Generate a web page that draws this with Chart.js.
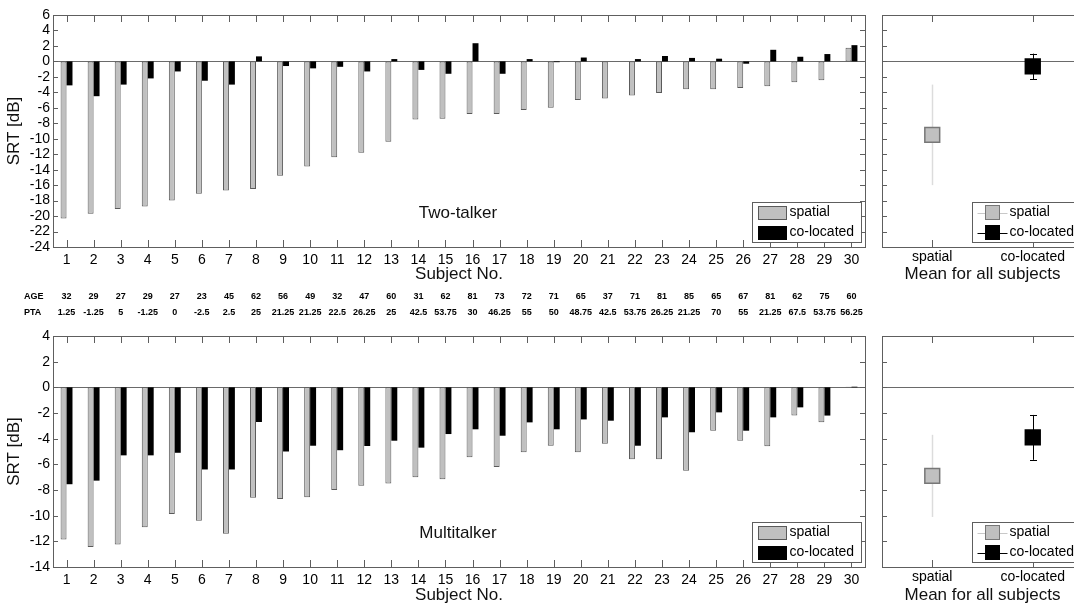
<!DOCTYPE html>
<html>
<head>
<meta charset="utf-8">
<script src="https://cdn.jsdelivr.net/npm/chart.js@4.4.1/dist/chart.umd.min.js"></script>
<style>
    html, body { margin: 0; padding: 0; background: #fff; overflow: hidden; width: 1074px; height: 606px; }
    canvas { position: absolute; }
</style>
</head>
<body>
<canvas id="twoBars" width="880" height="320" style="left:0;top:0"></canvas>
<canvas id="twoMean" width="230" height="285" style="left:870px;top:0"></canvas>
<canvas id="multiBars" width="880" height="286" style="left:0;top:320px"></canvas>
<canvas id="multiMean" width="230" height="286" style="left:870px;top:320px"></canvas>
<script>
const subjects = Array.from({ length: 30 }, (_, i) => String(i + 1));

const twoSpatial = [-20.3, -19.7, -19.1, -18.75, -18.0, -17.1, -16.7, -16.5, -14.8, -13.6,
    -12.4, -11.8, -10.4, -7.5, -7.4, -6.8, -6.8, -6.3, -6.0, -5.0,
    -4.8, -4.4, -4.1, -3.6, -3.6, -3.45, -3.2, -2.7, -2.45, 1.75];
const twoColocated = [-3.1, -4.5, -3.0, -2.2, -1.3, -2.5, -3.0, 0.65, -0.6, -0.9,
    -0.7, -1.3, 0.3, -1.1, -1.6, 2.35, -1.6, 0.3, -0.1, 0.5,
    0, 0.3, 0.7, 0.45, 0.35, -0.3, 1.5, 0.6, 0.95, 2.1];

const multiSpatial = [-11.85, -12.45, -12.25, -10.9, -9.87, -10.4, -11.4, -8.6, -8.7, -8.57,
    -8.0, -7.66, -7.5, -7.0, -7.17, -5.45, -6.2, -5.06, -4.55, -5.06,
    -4.4, -5.6, -5.6, -6.5, -3.38, -4.16, -4.6, -2.2, -2.73, 0.05];
const multiColocated = [-7.55, -7.27, -5.3, -5.3, -5.1, -6.4, -6.4, -2.7, -5.0, -4.55,
    -4.9, -4.57, -4.16, -4.7, -3.64, -3.27, -3.77, -2.73, -3.27, -2.5,
    -2.6, -4.55, -2.34, -3.5, -1.95, -3.38, -2.34, -1.56, -2.2, 0.05];

const ages = [32, 29, 27, 29, 27, 23, 45, 62, 56, 49, 32, 47, 60, 31, 62,
    81, 73, 72, 71, 65, 37, 71, 81, 85, 65, 67, 81, 62, 75, 60];
const pta = ['1.25', '-1.25', '5', '-1.25', '0', '-2.5', '2.5', '25', '21.25', '21.25',
    '22.5', '26.25', '25', '42.5', '53.75', '30', '46.25', '55', '50', '48.75',
    '42.5', '53.75', '26.25', '21.25', '70', '55', '21.25', '67.5', '53.75', '56.25'];

const conditions = ['spatial', 'co-located'];
const twoMean = [-9.5, -0.65];
const twoSD = [6.5, 1.65];
const multiMean = [-6.9, -3.9];
const multiSD = [3.2, 1.75];

Chart.defaults.font.family = '"Liberation Sans", Arial, sans-serif';
Chart.defaults.color = '#000';

const GRAY = '#c0c0c0';
const GRAY_EDGE = '#5a5a5a';
const FRAME = '#5e5e5e';

// frame, inward ticks, zero line, legend and panel text
const framePlugin = {
    id: 'frame',
    beforeDatasetsDraw(chart, args, o) {
        const { ctx, chartArea: a, scales: { x, y } } = chart;
        const y0 = Math.round(y.getPixelForValue(0)) + 0.5;
        ctx.save();
        ctx.strokeStyle = '#6a6a6a';
        ctx.lineWidth = 1;
        ctx.beginPath();
        ctx.moveTo(a.left, y0);
        ctx.lineTo(a.right, y0);
        ctx.stroke();

        // error bars of the mean panels
        if (o.means) {
            o.means.forEach((m, k) => {
                const px = Math.round(x.getPixelForValue(k)) + 0.5;
                const top = y.getPixelForValue(m + o.sds[k]);
                const bot = y.getPixelForValue(m - o.sds[k]);
                ctx.strokeStyle = k === 0 ? '#dcdcdc' : '#000';
                ctx.lineWidth = k === 0 ? 1.5 : 1;
                ctx.beginPath();
                ctx.moveTo(px, top);
                ctx.lineTo(px, bot);
                if (k === 1) {
                    ctx.moveTo(px - 3.5, Math.round(top) + 0.5);
                    ctx.lineTo(px + 3.5, Math.round(top) + 0.5);
                    ctx.moveTo(px - 3.5, Math.round(bot) + 0.5);
                    ctx.lineTo(px + 3.5, Math.round(bot) + 0.5);
                }
                ctx.stroke();
            });
        }
        ctx.restore();
    },
    afterDraw(chart, args, o) {
        const { ctx, chartArea: a, scales: { x, y } } = chart;
        ctx.save();
        ctx.strokeStyle = FRAME;
        ctx.lineWidth = 1;
        ctx.beginPath();
        x.ticks.forEach((t, i) => {
            const px = Math.round(x.getPixelForTick(i)) + 0.5;
            ctx.moveTo(px, a.bottom);
            ctx.lineTo(px, a.bottom - 7);
            ctx.moveTo(px, a.top);
            ctx.lineTo(px, a.top + 7);
        });
        y.ticks.forEach((t, i) => {
            const py = Math.round(y.getPixelForTick(i)) + 0.5;
            ctx.moveTo(a.left, py);
            ctx.lineTo(a.left + 5, py);
            ctx.moveTo(a.right, py);
            ctx.lineTo(a.right - 5, py);
        });
        ctx.stroke();
        ctx.strokeRect(Math.round(a.left) + 0.5, Math.round(a.top) + 0.5,
            Math.round(a.width), Math.round(a.height));

        // legend box
        const lg = o.legend;
        const bx = Math.round(lg.right ? a.right - 4 - lg.width : a.left + lg.left) + 0.5;
        const by = Math.round(a.bottom - 5 - 40) + 0.5;
        ctx.fillStyle = '#fff';
        ctx.fillRect(bx, by, lg.width, 40);
        ctx.strokeStyle = FRAME;
        ctx.strokeRect(bx, by, lg.width, 40);
        ctx.font = '14px "Liberation Sans", Arial, sans-serif';
        ctx.textBaseline = 'middle';
        ctx.textAlign = 'left';
        conditions.forEach((name, k) => {
            const ry = by + 10 + k * 20;
            if (lg.markers) {
                ctx.strokeStyle = k === 0 ? '#c8c8c8' : '#000';
                ctx.beginPath();
                ctx.moveTo(bx + 5, Math.round(ry) + 0.5);
                ctx.lineTo(bx + 35, Math.round(ry) + 0.5);
                ctx.stroke();
                ctx.fillStyle = k === 0 ? GRAY : '#000';
                ctx.fillRect(bx + 13, ry - 7, 14, 14);
                ctx.strokeStyle = k === 0 ? '#777' : '#000';
                ctx.strokeRect(bx + 13, ry - 7, 14, 14);
                ctx.fillStyle = '#000';
                ctx.fillText(name, bx + 37, ry);
            } else {
                ctx.fillStyle = k === 0 ? GRAY : '#000';
                ctx.fillRect(bx + 6, ry - 6, 28, 13);
                ctx.strokeStyle = k === 0 ? GRAY_EDGE : '#000';
                ctx.strokeRect(bx + 6, ry - 6, 28, 13);
                ctx.fillStyle = '#000';
                ctx.fillText(name, bx + 37, ry);
            }
        });

        if (o.label) {
            ctx.font = '17px "Liberation Sans", Arial, sans-serif';
            ctx.textAlign = 'center';
            ctx.fillStyle = '#111';
            ctx.fillText(o.label, 458, 213);
        }

        // AGE / PTA rows under the top panel
        if (o.ages) {
            ctx.font = 'bold 9px "Liberation Sans Narrow", "Liberation Sans", Arial, sans-serif';
            ctx.fillStyle = '#000';
            ctx.textAlign = 'left';
            ctx.fillText('AGE', 24, 297);
            ctx.fillText('PTA', 24, 313);
            ctx.textAlign = 'center';
            o.ages.forEach((v, i) => {
                const px = x.getPixelForTick(i);
                ctx.fillText(String(v), px, 297);
                ctx.fillText(o.pta[i], px, 313);
            });
        }
        ctx.restore();
    }
};

function barChart(id, spatial, colocated, yMin, yMax, pad, frameOpts) {
    return new Chart(document.getElementById(id), {
        type: 'bar',
        data: {
            labels: subjects,
            datasets: [
                { label: 'spatial', data: spatial, backgroundColor: GRAY, borderColor: GRAY_EDGE, borderWidth: 1, borderSkipped: false },
                { label: 'co-located', data: colocated, backgroundColor: '#000', borderWidth: 0 }
            ]
        },
        options: {
            responsive: false,
            animation: false,
            devicePixelRatio: 1,
            layout: { padding: pad },
            datasets: { bar: { categoryPercentage: 0.44, barPercentage: 1 } },
            plugins: { legend: { display: false }, tooltip: { enabled: false }, frame: frameOpts },
            scales: {
                x: {
                    grid: { display: false, drawTicks: false },
                    border: { display: false },
                    ticks: { font: { size: 14 }, padding: 5, maxRotation: 0, autoSkip: false },
                    title: { display: true, text: 'Subject No.', font: { size: 17 }, color: '#111', padding: { top: 0, bottom: 0 } },
                    afterFit: s => { s.height = pad.bottom ? 38 : 39; }
                },
                y: {
                    min: yMin,
                    max: yMax,
                    grid: { display: false, drawTicks: false },
                    border: { display: false },
                    ticks: { stepSize: 2, font: { size: 14 }, padding: 3, autoSkip: false },
                    title: { display: true, text: 'SRT [dB]', font: { size: 17 }, color: '#111', padding: { top: 4, bottom: 0 } },
                    afterFit: s => { s.width = 53; }
                }
            }
        },
        plugins: [framePlugin]
    });
}

function meanChart(id, means, sds, yMin, yMax, pad, xHeight) {
    return new Chart(document.getElementById(id), {
        type: 'line',
        data: {
            labels: conditions,
            datasets: [
                { label: 'spatial', data: [means[0], null], showLine: false, pointStyle: 'rect', pointRadius: 10.5,
                  backgroundColor: GRAY, borderColor: '#777', pointBorderWidth: 1.5 },
                { label: 'co-located', data: [null, means[1]], showLine: false, pointStyle: 'rect', pointRadius: 10.5,
                  backgroundColor: '#000', borderColor: '#000', pointBorderWidth: 1.5 }
            ]
        },
        options: {
            responsive: false,
            animation: false,
            devicePixelRatio: 1,
            layout: { padding: pad },
            plugins: {
                legend: { display: false },
                tooltip: { enabled: false },
                frame: { means: means, sds: sds, legend: { left: 90, width: 200, markers: true } }
            },
            scales: {
                x: {
                    offset: true,
                    grid: { display: false, drawTicks: false },
                    border: { display: false },
                    ticks: { font: { size: 14 }, padding: 2, maxRotation: 0, autoSkip: false },
                    title: { display: true, text: 'Mean for all subjects', font: { size: 17 }, color: '#111', padding: { top: 0, bottom: 0 } },
                    afterFit: s => { s.height = xHeight; }
                },
                y: {
                    min: yMin,
                    max: yMax,
                    grid: { display: false, drawTicks: false },
                    border: { display: false },
                    ticks: { display: false, stepSize: 2, autoSkip: false },
                    afterFit: s => { s.width = 10; }
                }
            }
        },
        plugins: [framePlugin]
    });
}

barChart('twoBars', twoSpatial, twoColocated, -24, 6,
    { top: 15, right: 15, bottom: 35, left: 0 },
    { label: 'Two-talker', legend: { right: true, width: 109 }, ages: ages, pta: pta });
meanChart('twoMean', twoMean, twoSD, -24, 6, { top: 15, right: 17, bottom: 0, left: 0 }, 38);

barChart('multiBars', multiSpatial, multiColocated, -14, 4,
    { top: 16, right: 15, bottom: 0, left: 0 },
    { label: 'Multitalker', legend: { right: true, width: 109 } });
meanChart('multiMean', multiMean, multiSD, -14, 4, { top: 16, right: 17, bottom: 0, left: 0 }, 39);
</script>
</body>
</html>
